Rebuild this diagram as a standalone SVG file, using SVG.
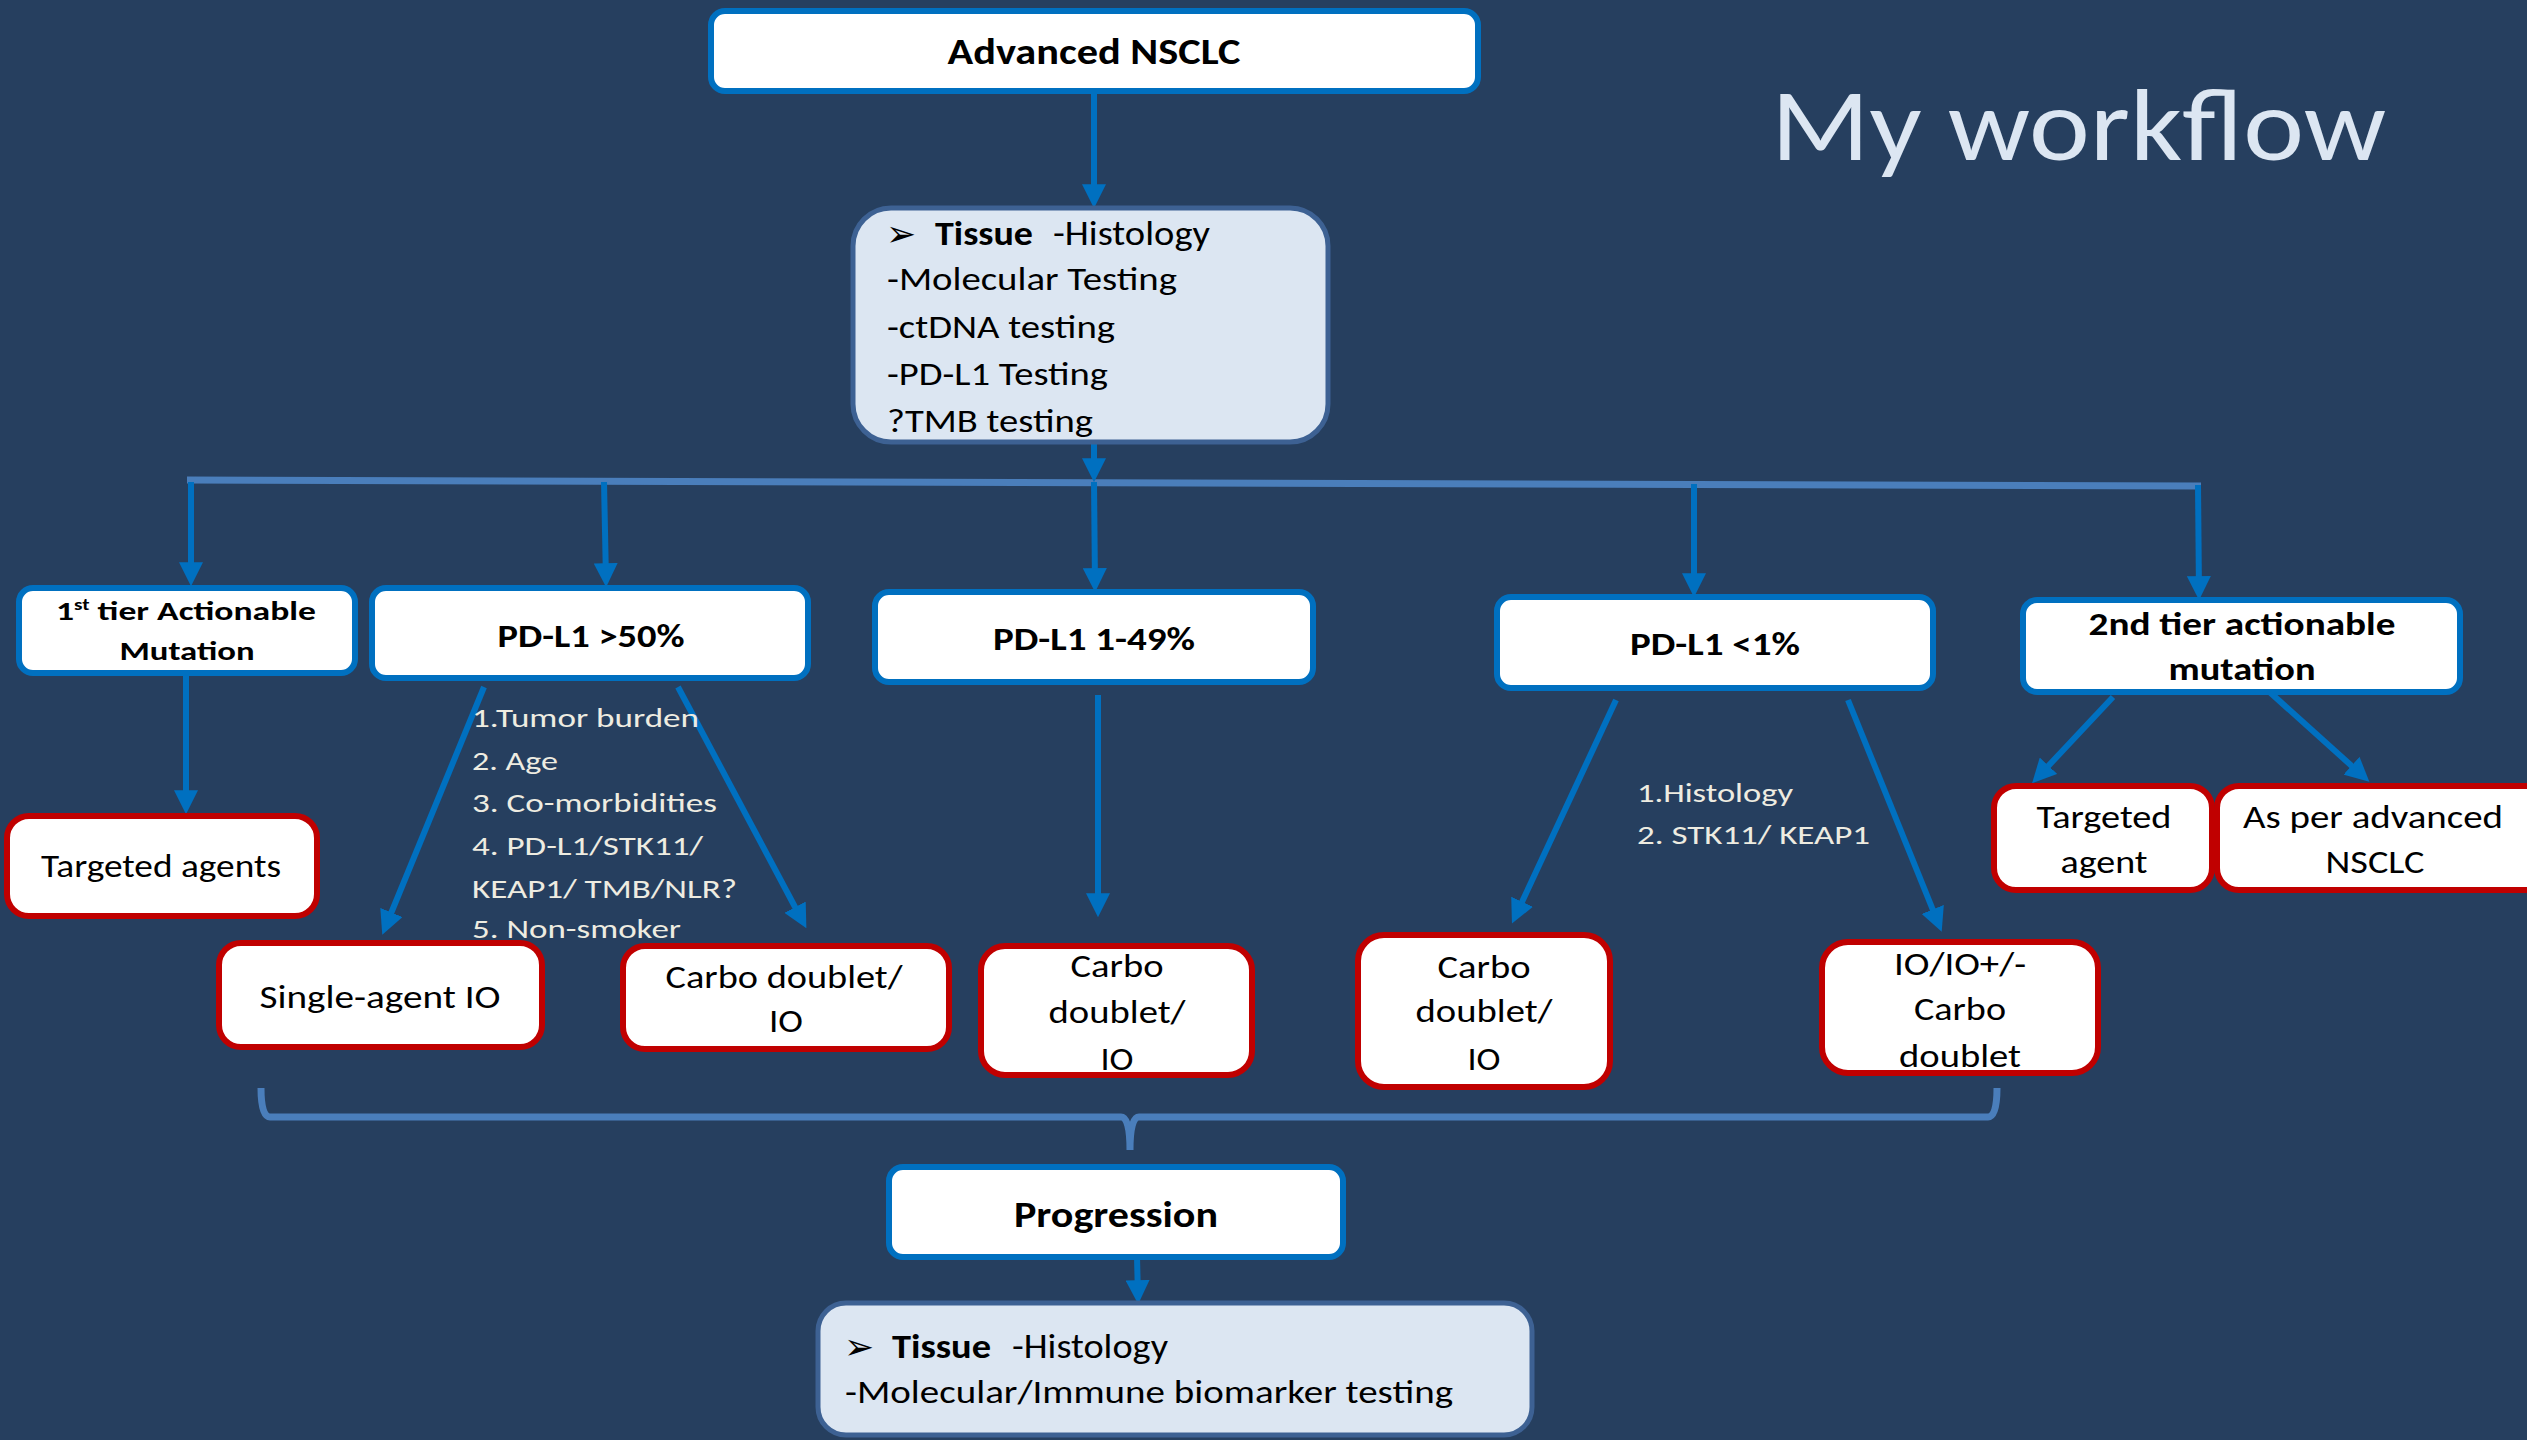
<svg xmlns="http://www.w3.org/2000/svg" width="2527" height="1440" viewBox="0 0 2527 1440">
<defs>
<style>
.bg{fill:#263f5f}
.bbox{fill:#ffffff;stroke:#0070c0;stroke-width:6}
.rbox{fill:#ffffff;stroke:#c00000;stroke-width:6}
.tbox{fill:#dce6f2;stroke:#3d6193;stroke-width:5}
.t{font-family:Carlito,Lato,"Open Sans",sans-serif;fill:#000000}
.b{font-weight:bold}
.c{text-anchor:middle}
.note{font-family:Carlito,Lato,"Open Sans",sans-serif;fill:#eeece1;font-size:26px}
.arr{stroke:#0070c0;stroke-width:6;fill:none;marker-end:url(#ah)}
.bar{stroke:#4a7ebb;stroke-width:7;fill:none}
.glyph{font-family:"DejaVu Sans",sans-serif}
</style>
<marker id="ah" viewBox="0 0 10 10" refX="7" refY="5" markerWidth="4" markerHeight="4" orient="auto" markerUnits="strokeWidth">
<path d="M0,0 L10,5 L0,10 z" fill="#0070c0"/>
</marker>
</defs>
<rect class="bg" x="0" y="0" width="2527" height="1440"/>

<g id="title">
<text x="1771" y="160" font-family="Carlito,Lato,'Open Sans',sans-serif" font-size="102" fill="#dce6f2" textLength="615" lengthAdjust="spacingAndGlyphs">My workflow</text>
</g>

<g id="connectors">
<path class="bar" d="M187,480 L2201,486"/>
<path class="bar" d="M261,1088 Q261,1117 270,1117 L1121,1117 Q1130,1117 1130,1150 Q1130,1117 1139,1117 L1988,1117 Q1997,1117 1997,1088"/>
<line class="arr" x1="1094" y1="91" x2="1094" y2="201"/>
<line class="arr" x1="1094" y1="442" x2="1094" y2="475"/>
<line class="arr" x1="191" y1="482" x2="191" y2="579"/>
<line class="arr" x1="604" y1="482" x2="606" y2="580"/>
<line class="arr" x1="1094" y1="482" x2="1095" y2="585"/>
<line class="arr" x1="1694" y1="484" x2="1694" y2="590"/>
<line class="arr" x1="2198" y1="485" x2="2199" y2="593"/>
<line class="arr" x1="186" y1="673" x2="186" y2="807"/>
<line class="arr" x1="484" y1="687" x2="385" y2="928"/>
<line class="arr" x1="678" y1="687" x2="803" y2="922"/>
<line class="arr" x1="1098" y1="695" x2="1098" y2="910"/>
<line class="arr" x1="1616" y1="700" x2="1515" y2="917"/>
<line class="arr" x1="1848" y1="700" x2="1939" y2="925"/>
<line class="arr" x1="2113" y1="697" x2="2037" y2="778"/>
<line class="arr" x1="2264" y1="687" x2="2364" y2="777"/>
<line class="arr" x1="1137" y1="1257" x2="1138" y2="1297"/>
</g>

<g id="advanced-nsclc">
<rect class="bbox" x="711" y="11" width="767" height="80" rx="14"/>
<text class="t b c" x="1094" y="64" font-size="37" textLength="293" lengthAdjust="spacingAndGlyphs">Advanced NSCLC</text>
</g>

<g id="tissue-top">
<rect class="tbox" x="853" y="208" width="475" height="234" rx="38"/>
<text class="t" font-size="34"><tspan class="glyph" x="886" y="246" font-size="36">➢</tspan><tspan class="b" x="935" y="245" textLength="98" lengthAdjust="spacingAndGlyphs">Tissue</tspan><tspan x="1053" y="245" textLength="157" lengthAdjust="spacingAndGlyphs">-Histology</tspan></text>
<text class="t" x="887" y="290" font-size="33" textLength="290" lengthAdjust="spacingAndGlyphs">-Molecular Testing</text>
<text class="t" x="887" y="338" font-size="33" textLength="228" lengthAdjust="spacingAndGlyphs">-ctDNA testing</text>
<text class="t" x="887" y="385" font-size="33" textLength="221" lengthAdjust="spacingAndGlyphs">-PD-L1 Testing</text>
<text class="t" x="887" y="432" font-size="33" textLength="206" lengthAdjust="spacingAndGlyphs">?TMB testing</text>
</g>

<g id="first-tier">
<rect class="bbox" x="19" y="588" width="336" height="85" rx="14"/>
<text class="t b" x="56" y="620" font-size="27" textLength="260" lengthAdjust="spacingAndGlyphs">1<tspan font-size="16" dy="-10">st</tspan><tspan dy="10"> tier Actionable</tspan></text>
<text class="t b c" x="187" y="660" font-size="27" textLength="135" lengthAdjust="spacingAndGlyphs">Mutation</text>
</g>

<g id="pdl1-50">
<rect class="bbox" x="372" y="588" width="436" height="90" rx="14"/>
<text class="t b c" x="591" y="647" font-size="32" textLength="187" lengthAdjust="spacingAndGlyphs">PD-L1 &gt;50%</text>
</g>

<g id="pdl1-1-49">
<rect class="bbox" x="875" y="592" width="438" height="90" rx="14"/>
<text class="t b c" x="1094" y="650" font-size="33" textLength="202" lengthAdjust="spacingAndGlyphs">PD-L1 1-49%</text>
</g>

<g id="pdl1-lt1">
<rect class="bbox" x="1497" y="597" width="436" height="91" rx="14"/>
<text class="t b c" x="1715" y="655" font-size="33" textLength="170" lengthAdjust="spacingAndGlyphs">PD-L1 &lt;1%</text>
</g>

<g id="second-tier">
<rect class="bbox" x="2023" y="600" width="437" height="92" rx="14"/>
<text class="t b c" x="2242" y="635" font-size="33" textLength="307" lengthAdjust="spacingAndGlyphs">2nd tier actionable</text>
<text class="t b c" x="2242" y="680" font-size="33" textLength="147" lengthAdjust="spacingAndGlyphs">mutation</text>
</g>

<g id="targeted-agents">
<rect class="rbox" x="7" y="816" width="310" height="100" rx="22"/>
<text class="t c" x="161" y="877" font-size="32" textLength="240" lengthAdjust="spacingAndGlyphs">Targeted agents</text>
</g>

<g id="notes-50">
<text class="note" x="472" y="727" textLength="227" lengthAdjust="spacingAndGlyphs">1.Tumor burden</text>
<text class="note" x="472" y="770" textLength="86" lengthAdjust="spacingAndGlyphs">2. Age</text>
<text class="note" x="472" y="812" textLength="245" lengthAdjust="spacingAndGlyphs">3. Co-morbidities</text>
<text class="note" x="472" y="855" textLength="231" lengthAdjust="spacingAndGlyphs">4. PD-L1/STK11/</text>
<text class="note" x="472" y="898" textLength="265" lengthAdjust="spacingAndGlyphs">KEAP1/ TMB/NLR?</text>
<text class="note" x="472" y="938" textLength="209" lengthAdjust="spacingAndGlyphs">5. Non-smoker</text>
</g>

<g id="single-agent-io">
<rect class="rbox" x="219" y="943" width="323" height="104" rx="22"/>
<text class="t c" x="380" y="1008" font-size="33" textLength="241" lengthAdjust="spacingAndGlyphs">Single-agent IO</text>
</g>

<g id="carbo-50">
<rect class="rbox" x="623" y="946" width="326" height="103" rx="22"/>
<text class="t c" x="784" y="988" font-size="33" textLength="237" lengthAdjust="spacingAndGlyphs">Carbo doublet/</text>
<text class="t c" x="786" y="1032" font-size="33" textLength="34" lengthAdjust="spacingAndGlyphs">IO</text>
</g>

<g id="carbo-1-49">
<rect class="rbox" x="981" y="946" width="271" height="129" rx="24"/>
<text class="t c" x="1117" y="977" font-size="33" textLength="93" lengthAdjust="spacingAndGlyphs">Carbo</text>
<text class="t c" x="1117" y="1023" font-size="33" textLength="137" lengthAdjust="spacingAndGlyphs">doublet/</text>
<text class="t c" x="1117" y="1070" font-size="33" textLength="33" lengthAdjust="spacingAndGlyphs">IO</text>
</g>

<g id="notes-lt1">
<text class="note" x="1637" y="802" textLength="156" lengthAdjust="spacingAndGlyphs">1.Histology</text>
<text class="note" x="1637" y="844" textLength="233" lengthAdjust="spacingAndGlyphs">2. STK11/ KEAP1</text>
</g>

<g id="carbo-lt1">
<rect class="rbox" x="1358" y="935" width="252" height="152" rx="26"/>
<text class="t c" x="1484" y="978" font-size="33" textLength="93" lengthAdjust="spacingAndGlyphs">Carbo</text>
<text class="t c" x="1484" y="1022" font-size="33" textLength="137" lengthAdjust="spacingAndGlyphs">doublet/</text>
<text class="t c" x="1484" y="1070" font-size="33" textLength="33" lengthAdjust="spacingAndGlyphs">IO</text>
</g>

<g id="io-carbo">
<rect class="rbox" x="1822" y="942" width="276" height="131" rx="26"/>
<text class="t c" x="1960" y="975" font-size="33" textLength="132" lengthAdjust="spacingAndGlyphs">IO/IO+/-</text>
<text class="t c" x="1960" y="1020" font-size="33" textLength="92" lengthAdjust="spacingAndGlyphs">Carbo</text>
<text class="t c" x="1960" y="1067" font-size="33" textLength="122" lengthAdjust="spacingAndGlyphs">doublet</text>
</g>

<g id="targeted-agent">
<rect class="rbox" x="1994" y="786" width="218" height="104" rx="22"/>
<text class="t c" x="2104" y="828" font-size="33" textLength="135" lengthAdjust="spacingAndGlyphs">Targeted</text>
<text class="t c" x="2104" y="873" font-size="33" textLength="87" lengthAdjust="spacingAndGlyphs">agent</text>
</g>

<g id="as-per-advanced">
<rect class="rbox" x="2217" y="786" width="330" height="104" rx="22"/>
<text class="t c" x="2373" y="828" font-size="33" textLength="260" lengthAdjust="spacingAndGlyphs">As per advanced</text>
<text class="t c" x="2375" y="873" font-size="33" textLength="99" lengthAdjust="spacingAndGlyphs">NSCLC</text>
</g>

<g id="progression">
<rect class="bbox" x="889" y="1167" width="454" height="90" rx="14"/>
<text class="t b c" x="1116" y="1227" font-size="36" textLength="204" lengthAdjust="spacingAndGlyphs">Progression</text>
</g>

<g id="tissue-bottom">
<rect class="tbox" x="818" y="1303" width="714" height="132" rx="28"/>
<text class="t" font-size="34"><tspan class="glyph" x="844" y="1359" font-size="36">➢</tspan><tspan class="b" x="892" y="1358" textLength="99" lengthAdjust="spacingAndGlyphs">Tissue</tspan><tspan x="1012" y="1358" textLength="156" lengthAdjust="spacingAndGlyphs">-Histology</tspan></text>
<text class="t" x="845" y="1403" font-size="33" textLength="608" lengthAdjust="spacingAndGlyphs">-Molecular/Immune biomarker testing</text>
</g>
</svg>
